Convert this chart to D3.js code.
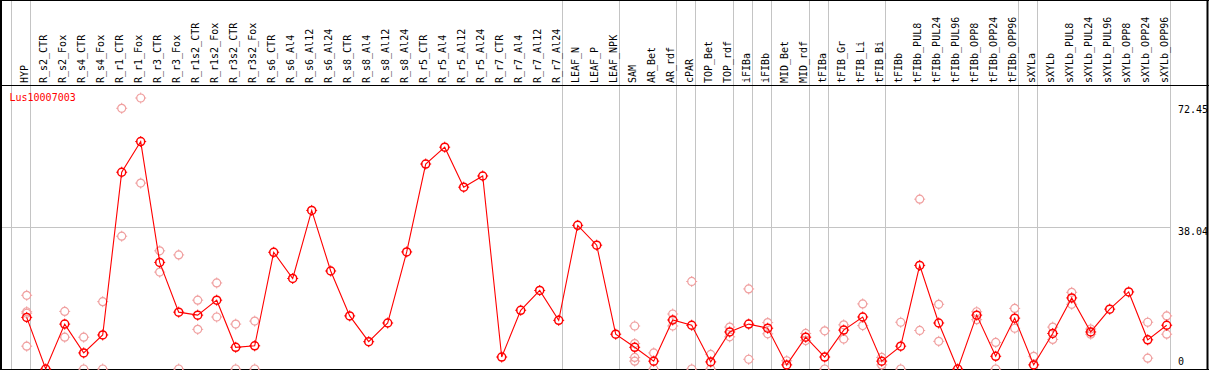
<!DOCTYPE html>
<html>
<head>
<meta charset="utf-8">
<script src="https://cdn.jsdelivr.net/npm/d3@7"></script>
<style>
  html, body { margin: 0; padding: 0; background: #fff; }
  svg { display: block; }
  text { font-family: "DejaVu Sans Mono", monospace; font-size: 10px; }
</style>
</head>
<body>
<script>
const categories = ["HYP","R_s2_CTR","R_s2_Fox","R_s4_CTR","R_s4_Fox","R_r1_CTR","R_r1_Fox","R_r3_CTR","R_r3_Fox",
  "R_r1s2_CTR","R_r1s2_Fox","R_r3s2_CTR","R_r3s2_Fox","R_s6_CTR","R_s6_Al4","R_s6_Al12","R_s6_Al24",
  "R_s8_CTR","R_s8_Al4","R_s8_Al12","R_s8_Al24","R_r5_CTR","R_r5_Al4","R_r5_Al12","R_r5_Al24",
  "R_r7_CTR","R_r7_Al4","R_r7_Al12","R_r7_Al24","LEAF_N","LEAF_P","LEAF_NPK","SAM","AR_Bet","AR_rdf",
  "cPAR","TOP_Bet","TOP_rdf","iFIBa","iFIBb","MID_Bet","MID_rdf","tFIBa","tFIB_Gr","tFIB_Li","tFIB_Bi",
  "tFIBb","tFIBb_PUL8","tFIBb_PUL24","tFIBb_PUL96","tFIBb_OPP8","tFIBb_OPP24","tFIBb_OPP96",
  "sXYLa","sXYLb","sXYLb_PUL8","sXYLb_PUL24","sXYLb_PUL96","sXYLb_OPP8","sXYLb_OPP24","sXYLb_OPP96"];

const meanValues = [13.8,0,12.0,4.3,9.1,52.6,60.8,28.5,15.2,
  14.4,18.4,5.8,6.2,31.2,24.2,42.4,26.2,
  14.2,7.3,12.3,31.3,54.8,59.3,48.6,51.6,
  3.2,15.7,21.0,13.0,38.4,33.1,9.3,5.8,2.1,13.1,
  11.7,1.9,9.9,12.0,10.9,1.1,8.5,3.2,10.4,13.9,2.1,
  6.1,27.7,12.3,0,14.4,3.4,13.6,
  1.1,9.5,19.0,9.9,16.0,20.6,7.8,11.7];

const replicateValues = [
  [19.7,15.3,14.9,6.1],[],[15.4,8.5],[8.5,0],[18.0,0],[69.7,35.5],[72.45,49.7],[31.6,25.9],[30.5,0],
  [18.4,10.6],[23.0,13.9],[12.0,0],[12.8,0],[],[],[],[],
  [],[],[],[],[],[],[],[],
  [],[],[],[],[],[],[],[11.5,6.8,3.1,2.1],[4.3,0],[14.7,11.5],
  [23.4,0],[3.9,0],[11.2,8.6],[21.4,2.6],[12.4,9.4],[2.2],[9.5,7.6],[10.2,0],[11.8,8.0],[17.4,11.6],[3.1,1.1],
  [12.5,0],[45.4,10.3],[17.3,7.4],[],[15.3,13.2],[7.1,0],[16.2,10.9],
  [3.4],[11.2,7.9],[20.5,17.3],[10.7,9.3],[],[],[12.5,2.9],[14.2,9.3]];

const groupStarts = ["HYP","R_s2_CTR","LEAF_N","SAM","cPAR","TOP_Bet","iFIBa","iFIBb","MID_Bet","tFIBa","tFIB_Gr","tFIBb","sXYLa","sXYLb"];
const yTicks = [0, 38.04, 72.45];
const geneLabel = "Lus10007003";

const W = 1209, H = 370;
const svg = d3.select("body").append("svg").attr("width", W).attr("height", H);
svg.append("rect").attr("width", W).attr("height", H).attr("fill", "#fff");

const x = d3.scaleBand().domain(categories).range([11, 11 + 19 * categories.length]).paddingInner(0).paddingOuter(0);
const y = d3.scaleLinear().domain([0, 72.45]).range([369, 98]);
const px = c => x(c) + 15.7;

const grid = "#c4c4c4";
// vertical group separators
const sepX = groupStarts.map(c => x(c)).concat([x.range()[1]]);
svg.selectAll("line.vsep").data(sepX).enter().append("line")
  .attr("x1", d => Math.round(d) + 0.5).attr("x2", d => Math.round(d) + 0.5)
  .attr("y1", 0).attr("y2", 369).attr("stroke", grid).attr("stroke-width", 1);
// horizontal grid at middle tick
svg.append("line").attr("x1", 0).attr("x2", x.range()[1])
  .attr("y1", Math.round(y(38.04)) + 0.5).attr("y2", Math.round(y(38.04)) + 0.5)
  .attr("stroke", grid).attr("stroke-width", 1);

// category labels (rotated)
svg.selectAll("text.cat").data(categories).enter().append("text")
  .attr("transform", c => `translate(${px(c) + 1.6},83) rotate(-90)`)
  .attr("fill", "#000").text(c => c);

// borders
const bk = "#000";
svg.append("line").attr("x1", 0).attr("x2", W).attr("y1", 0.5).attr("y2", 0.5).attr("stroke", bk);
svg.append("line").attr("x1", 0).attr("x2", W).attr("y1", 85.5).attr("y2", 85.5).attr("stroke", bk);
svg.append("line").attr("x1", 0).attr("x2", W).attr("y1", 369.5).attr("y2", 369.5).attr("stroke", bk);
svg.append("line").attr("x1", 1).attr("x2", 1).attr("y1", 0).attr("y2", H).attr("stroke", bk).attr("stroke-width", 2);
svg.append("line").attr("x1", 1207.5).attr("x2", 1207.5).attr("y1", 0).attr("y2", H).attr("stroke", bk).attr("stroke-width", 2);

// y tick labels
const tickDy = {0: -4, 38.04: 8, 72.45: 15};
svg.selectAll("text.yt").data(yTicks).enter().append("text")
  .attr("x", 1178).attr("y", d => y(d) + tickDy[d]).attr("fill", "#000").text(d => d);

// gene label
svg.append("text").attr("x", 9.5).attr("y", 101).attr("fill", "#ff0000").text(geneLabel);

function marker(g, color, sw) {
  g.append("circle").attr("r", 4).attr("fill", "none").attr("stroke", color).attr("stroke-width", sw);
  g.append("path").attr("d", "M0,-5.5V-3.5M0,3.5V5.5M-5.5,0H-3.5M3.5,0H5.5")
    .attr("stroke", color).attr("stroke-width", 1);
}

// replicate points
const reps = [];
categories.forEach((c, i) => replicateValues[i].forEach(v => reps.push({c, v})));
const pink = "#f0a0a0";
svg.selectAll("g.rep").data(reps).enter().append("g")
  .attr("transform", d => `translate(${px(d.c)},${y(d.v)})`)
  .each(function() { marker(d3.select(this), pink, 1.2); });

// mean line
const line = d3.line().x((d, i) => px(categories[i])).y(d => y(d));
svg.append("path").datum(meanValues).attr("d", line)
  .attr("fill", "none").attr("stroke", "#ff0000").attr("stroke-width", 1.1);

svg.selectAll("g.mean").data(meanValues).enter().append("g")
  .attr("transform", (d, i) => `translate(${px(categories[i])},${y(d)})`)
  .each(function() { marker(d3.select(this), "#ff0000", 1.5); });
</script>
</body>
</html>
